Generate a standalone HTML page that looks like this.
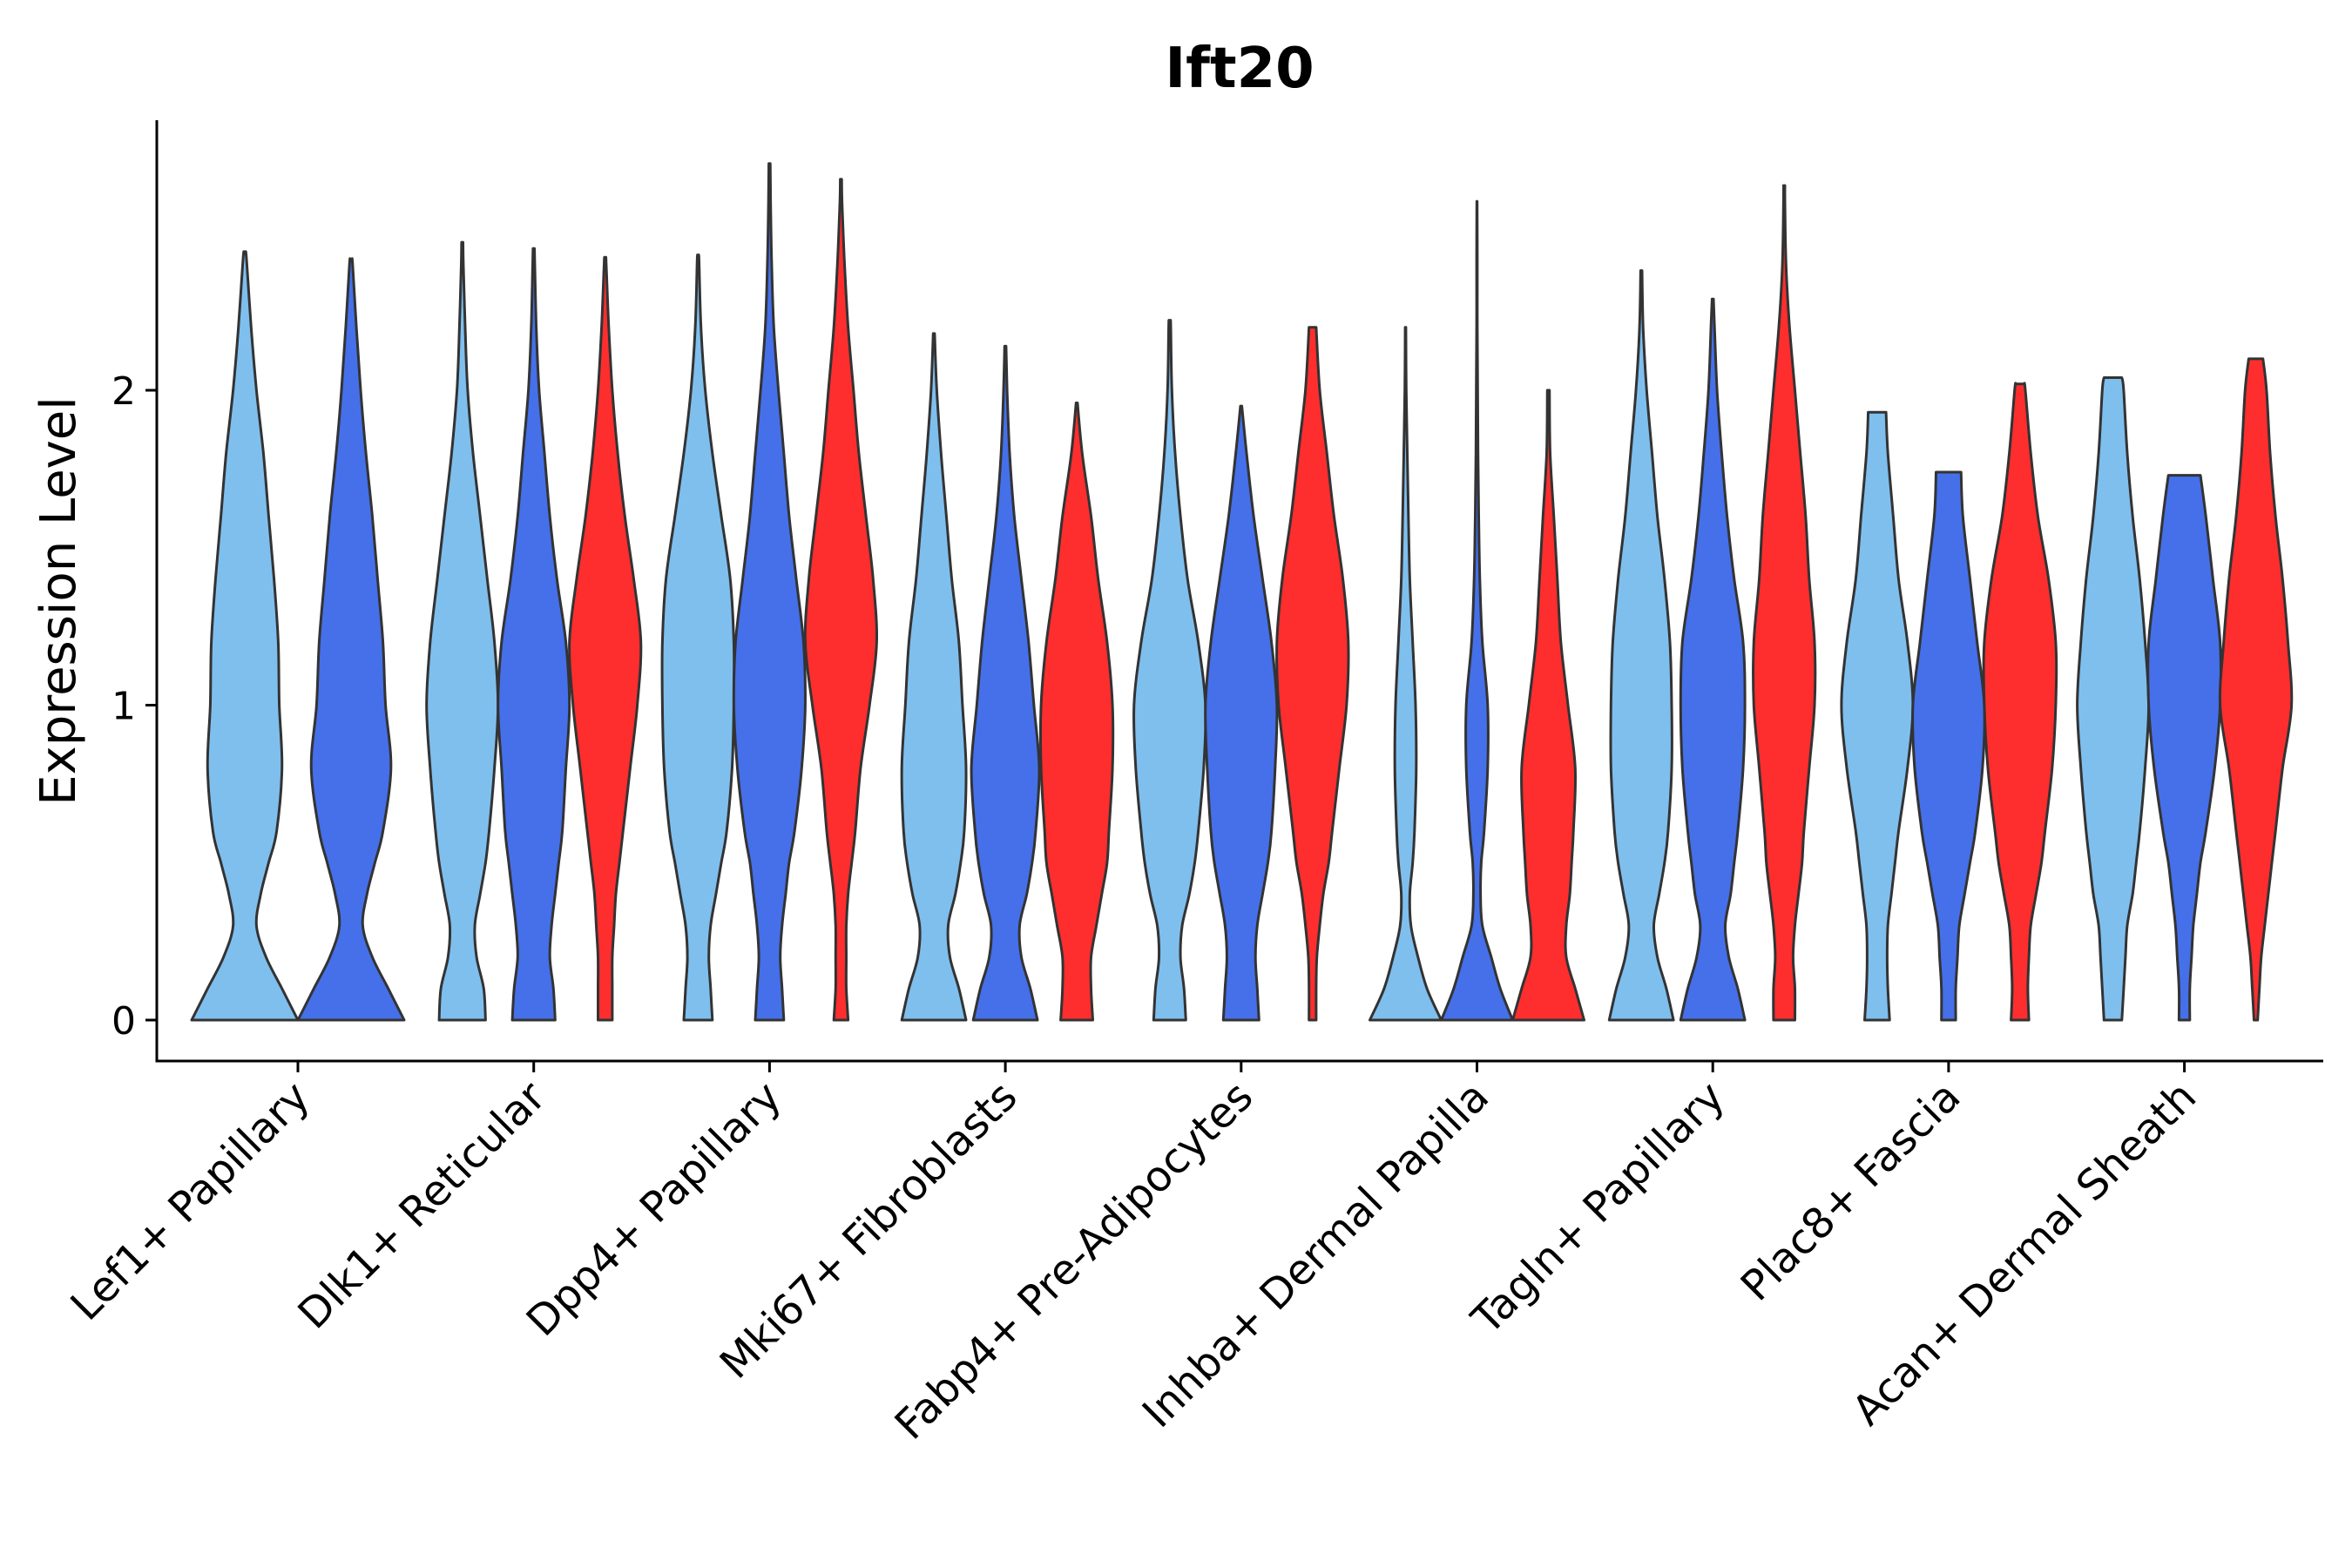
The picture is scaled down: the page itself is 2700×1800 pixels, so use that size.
<!DOCTYPE html>
<html><head><meta charset="utf-8"><style>
html,body{margin:0;padding:0;background:#fff;}
svg{display:block;font-family:"DejaVu Sans","Liberation Sans",sans-serif;}
</style></head><body>
<svg id="chart" width="2700" height="1800" viewBox="0 0 2700 1800" xmlns="http://www.w3.org/2000/svg">
<rect width="2700" height="1800" fill="#fff"/>
<text x="1423" y="100" text-anchor="middle" font-size="64" font-weight="bold" fill="#000">Ift20</text>
<text transform="translate(86,690) rotate(-90)" text-anchor="middle" font-size="56" fill="#000">Expression Level</text>
<g id="violins"></g>
<g id="axes"></g>
</svg>
<script>
const categories = ["Lef1+ Papillary","Dlk1+ Reticular","Dpp4+ Papillary","Mki67+ Fibroblasts","Fabp4+ Pre-Adipocytes","Inhba+ Dermal Papilla","Tagln+ Papillary","Plac8+ Fascia","Acan+ Dermal Sheath"];
const yTicks = [0,1,2];
const gridY = [0,0.1,0.2,0.3,0.4,0.5,0.6,0.8,1.0,1.2,1.4,1.6,1.8,2.0,2.2,2.4,2.6];
const violinGroup = [0,0, 1,1,1, 2,2,2, 3,3,3, 4,4,4, 5,5,5, 6,6,6, 7,7,7, 8,8,8];
const violinSeries = [0,1, 0,1,2, 0,1,2, 0,1,2, 0,1,2, 0,1,2, 0,1,2, 0,1,2, 0,1,2];
const violinMax = [2.44,2.41, 2.47,2.45,2.42, 2.43,2.72,2.67, 2.18,2.14,1.96, 2.22,1.95,2.2, 2.2,2.6,2.0, 2.38,2.29,2.65, 1.93,1.74,2.02, 2.04,1.73,2.1];
const violinTop = [0.02,0.02, 0.02,0.02,0.02, 0.02,0.02,0.02, 0.02,0.02,0.02, 0.02,0.02,0.1, 0.01,0.005,0.03, 0.02,0.02,0.02, 0.25,0.35,0.12, 0.25,0.45,0.2];
const violinWidths = [
 [1,0.7,0.4,0.22,0.3,0.45,0.6,0.7,0.65,0.63,0.55,0.45,0.35,0.22,0.12,0.04],
 [1,0.7,0.4,0.22,0.3,0.45,0.6,0.75,0.65,0.6,0.5,0.4,0.28,0.18,0.1,0.03],
 [0.65,0.6,0.4,0.35,0.5,0.65,0.75,0.9,1.0,0.9,0.7,0.5,0.3,0.15,0.08,0.03],
 [0.6,0.55,0.45,0.5,0.6,0.7,0.8,0.9,1.0,0.9,0.65,0.45,0.3,0.15,0.07,0.03],
 [0.2,0.2,0.2,0.25,0.3,0.4,0.5,0.7,0.9,1.0,0.8,0.55,0.35,0.2,0.1,0.03],
 [0.4,0.35,0.3,0.35,0.5,0.65,0.8,0.95,1.0,1.0,0.9,0.65,0.4,0.2,0.08,0.03],
 [0.4,0.35,0.3,0.35,0.45,0.55,0.7,0.9,1.0,0.95,0.75,0.55,0.4,0.25,0.12,0.06,0.03],
 [0.2,0.15,0.15,0.15,0.2,0.3,0.4,0.55,0.8,1.0,0.9,0.7,0.5,0.35,0.2,0.1,0.03],
 [0.9,0.7,0.45,0.4,0.6,0.75,0.85,0.9,0.8,0.7,0.5,0.35,0.2,0.08,0.03],
 [0.9,0.7,0.45,0.4,0.6,0.75,0.85,0.95,0.8,0.65,0.45,0.25,0.12,0.05,0.02],
 [0.45,0.4,0.4,0.55,0.7,0.85,0.9,1.0,1.0,0.85,0.6,0.4,0.15],
 [0.45,0.4,0.3,0.35,0.55,0.7,0.8,0.95,1.0,0.8,0.5,0.3,0.15,0.06,0.03],
 [0.5,0.45,0.4,0.45,0.6,0.75,0.85,0.95,1.0,0.85,0.6,0.35,0.15],
 [0.1,0.1,0.12,0.2,0.3,0.45,0.55,0.75,0.95,1.0,0.85,0.6,0.4,0.2],
 [1,0.6,0.35,0.15,0.12,0.2,0.25,0.3,0.28,0.2,0.12,0.08,0.05,0.02],
 [1,0.65,0.4,0.15,0.1,0.12,0.2,0.3,0.3,0.15,0.08,0.05,0.03,0.02,0.01,0.01],
 [1,0.75,0.5,0.5,0.6,0.65,0.7,0.75,0.55,0.35,0.25,0.15,0.05],
 [0.9,0.7,0.45,0.35,0.5,0.65,0.75,0.85,0.85,0.8,0.65,0.45,0.3,0.15,0.05,0.02],
 [0.9,0.7,0.45,0.35,0.5,0.6,0.7,0.85,0.9,0.85,0.6,0.4,0.25,0.12,0.05,0.02],
 [0.3,0.3,0.25,0.3,0.4,0.5,0.55,0.7,0.85,0.85,0.7,0.6,0.45,0.3,0.15,0.05,0.02],
 [0.35,0.3,0.28,0.3,0.4,0.5,0.6,0.85,1.0,0.85,0.6,0.45,0.3],
 [0.2,0.2,0.25,0.3,0.45,0.6,0.75,0.95,1.0,0.8,0.6,0.4],
 [0.25,0.22,0.25,0.3,0.45,0.6,0.7,0.9,1.0,1.0,0.8,0.5,0.3,0.15],
 [0.25,0.3,0.35,0.4,0.55,0.65,0.75,0.9,1.0,0.9,0.75,0.55,0.4,0.3],
 [0.15,0.15,0.2,0.25,0.35,0.45,0.6,0.85,1.0,1.0,0.8,0.6],
 [0.05,0.1,0.15,0.25,0.35,0.45,0.55,0.75,1.0,0.9,0.75,0.55,0.4,0.3]
];
const seriesColors = ["#7FBFEE","#4570EA","#FF2E2E"];
const seriesNames = ["light-blue","blue","red"];

const NS="http://www.w3.org/2000/svg";
const L=180, R=2667, B=1218;
const y0px=1171, unit=361.5;
function yScale(v){return y0px - v*unit;}
function xScale(i){return 342 + i*270.7;}

function mk(tag, attrs, parent){const e=document.createElementNS(NS,tag);for(const k in attrs)e.setAttribute(k,attrs[k]);parent.appendChild(e);return e;}

function smooth(pts){
  let d="M"+pts[0][0].toFixed(1)+","+pts[0][1].toFixed(1);
  for(let i=0;i<pts.length-1;i++){
    const p0=pts[Math.max(0,i-1)],p1=pts[i],p2=pts[i+1],p3=pts[Math.min(pts.length-1,i+2)];
    const c1=[p1[0]+(p2[0]-p0[0])/6,p1[1]+(p2[1]-p0[1])/6];
    const c2=[p2[0]-(p3[0]-p1[0])/6,p2[1]-(p3[1]-p1[1])/6];
    d+="C"+c1[0].toFixed(1)+","+c1[1].toFixed(1)+" "+c2[0].toFixed(1)+","+c2[1].toFixed(1)+" "+p2[0].toFixed(1)+","+p2[1].toFixed(1);
  }
  return d;
}

const vg=document.getElementById('violins');
violinWidths.forEach((w,k)=>{
  const g=violinGroup[k], s=violinSeries[k];
  const half = g===0 ? 61 : 41;
  const cx = g===0 ? xScale(g) + (s===0 ? -61 : 61) : xScale(g) + (s-1)*82;
  const mx=violinMax[k];
  const right=[];
  for(let i=0;i<gridY.length;i++){
    if(gridY[i]>=mx) break;
    const wv = (w[i]!==undefined? w[i] : 0.02);
    right.push([cx+wv*half, yScale(gridY[i])]);
  }
  right.push([cx+violinTop[k]*half, yScale(mx)]);
  const left=right.map(p=>[2*cx-p[0],p[1]]).reverse();
  let d=smooth(right);
  d+="L"+left[0][0].toFixed(1)+","+left[0][1].toFixed(1);
  d+=smooth(left).replace(/^M[^C]*/,"");
  d+="Z";
  const p=mk('path',{d:d,fill:seriesColors[s],stroke:"#333",'stroke-width':3,'stroke-linejoin':'round'},vg);
  
  
});

const ag=document.getElementById('axes');
const ya=mk('line',{x1:L,y1:138,x2:L,y2:B,stroke:"#000",'stroke-width':3},ag);


const xa=mk('line',{x1:L-1.5,y1:B,x2:R,y2:B,stroke:"#000",'stroke-width':3},ag);


yTicks.forEach(v=>{
  const y=yScale(v);
  const t=mk('line',{x1:L-13,y1:y,x2:L,y2:y,stroke:"#000",'stroke-width':3},ag);
  
  
  const tx=mk('text',{x:L-24,y:y+16,'text-anchor':'end','font-size':44,fill:'#000'},ag);
  tx.textContent=String(v);
  
  
});
categories.forEach((c,i)=>{
  const x=xScale(i);
  const t=mk('line',{x1:x,y1:B,x2:x,y2:B+13,stroke:"#000",'stroke-width':3},ag);
  
  
  const tx=mk('text',{transform:'translate('+(x+16)+','+(B+44)+') rotate(-45)','text-anchor':'end','font-size':48,fill:'#000'},ag);
  tx.textContent=c;
  
  
});
</script>
</body></html>
